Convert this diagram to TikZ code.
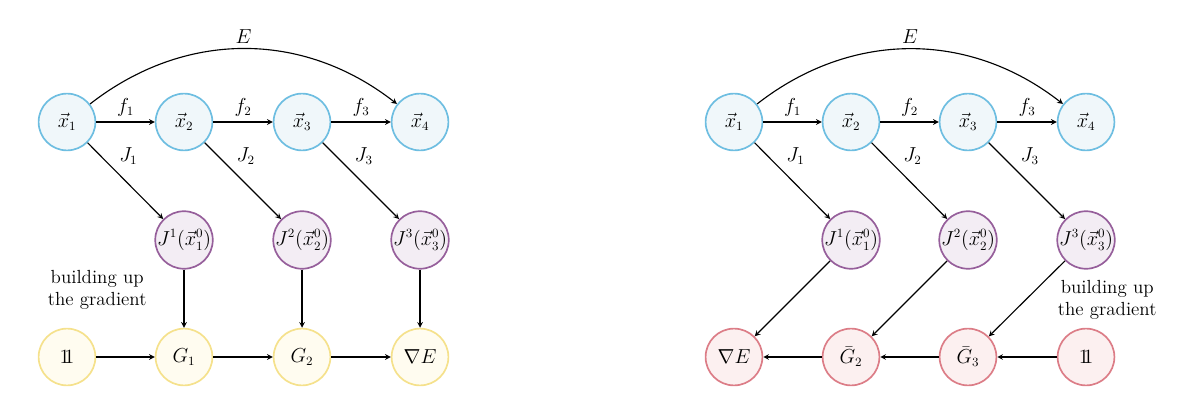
\documentclass[tikz,border=0pt]{standalone}
\newcommand{\onebb}{\mathrm{1\kern-0.28em 1}}
\begin{document}
\begin{tikzpicture}[x=1cm,y=1cm,font=\fontsize{13.5}{16}\selectfont,
  nd/.style={circle,draw,line width=1.2pt,minimum size=1.42cm,inner sep=0pt},
  bl/.style={nd,draw={rgb,255:red,110;green,190;blue,225},fill={rgb,255:red,240;green,247;blue,250}},
  pu/.style={nd,draw={rgb,255:red,150;green,95;blue,155},fill={rgb,255:red,243;green,237;blue,244}},
  ye/.style={nd,draw={rgb,255:red,245;green,225;blue,140},fill={rgb,255:red,255;green,252;blue,240}},
  re/.style={nd,draw={rgb,255:red,220;green,125;blue,135},fill={rgb,255:red,252;green,240;blue,240}},
  ar/.style={->,line width=0.8pt,>=stealth}]
\useasboundingbox (0,0) rectangle (30,10.3);
% left
\node[bl] (a1) at (1.675,7.25) {$\vec{x}_1$};
\node[bl] (a2) at (4.6,7.25) {$\vec{x}_2$};
\node[bl] (a3) at (7.55,7.25) {$\vec{x}_3$};
\node[bl] (a4) at (10.5,7.25) {$\vec{x}_4$};
\node[pu] (p1) at (4.6,4.3) {$J^1(\vec{x}^0_1)$};
\node[pu] (p2) at (7.55,4.3) {$J^2(\vec{x}^0_2)$};
\node[pu] (p3) at (10.5,4.3) {$J^3(\vec{x}^0_3)$};
\node[ye] (g0) at (1.675,1.375) {$\onebb$};
\node[ye] (g1) at (4.6,1.375) {$G_1$};
\node[ye] (g2) at (7.55,1.375) {$G_2$};
\node[ye] (g3) at (10.5,1.375) {$\nabla E$};
\draw[ar] (a1) -- node[above]{$f_1$} (a2);
\draw[ar] (a2) -- node[above]{$f_2$} (a3);
\draw[ar] (a3) -- node[above]{$f_3$} (a4);
\draw[ar] (a1) to[bend left=38] node[above]{$E$} (a4);
\draw[ar] (a1) -- node[pos=0.35,above right]{$J_1$} (p1);
\draw[ar] (a2) -- node[pos=0.35,above right]{$J_2$} (p2);
\draw[ar] (a3) -- node[pos=0.35,above right]{$J_3$} (p3);
\draw[ar] (p1) -- (g1);
\draw[ar] (p2) -- (g2);
\draw[ar] (p3) -- (g3);
\draw[ar] (g0) -- (g1);
\draw[ar] (g1) -- (g2);
\draw[ar] (g2) -- (g3);
\node[align=center] (t1) at (2.43,3.05) {building up\\the gradient};
% right
\node[bl] (b1) at (18.35,7.25) {$\vec{x}_1$};
\node[bl] (b2) at (21.275,7.25) {$\vec{x}_2$};
\node[bl] (b3) at (24.2,7.25) {$\vec{x}_3$};
\node[bl] (b4) at (27.15,7.25) {$\vec{x}_4$};
\node[pu] (q1) at (21.275,4.3) {$J^1(\vec{x}^0_1)$};
\node[pu] (q2) at (24.2,4.3) {$J^2(\vec{x}^0_2)$};
\node[pu] (q3) at (27.15,4.3) {$J^3(\vec{x}^0_3)$};
\node[re] (r0) at (18.35,1.375) {$\nabla E$};
\node[re] (r2) at (21.275,1.375) {$\bar{G}_2$};
\node[re] (r3) at (24.2,1.375) {$\bar{G}_3$};
\node[re] (r4) at (27.15,1.375) {$\onebb$};
\draw[ar] (b1) -- node[above]{$f_1$} (b2);
\draw[ar] (b2) -- node[above]{$f_2$} (b3);
\draw[ar] (b3) -- node[above]{$f_3$} (b4);
\draw[ar] (b1) to[bend left=38] node[above]{$E$} (b4);
\draw[ar] (b1) -- node[pos=0.35,above right]{$J_1$} (q1);
\draw[ar] (b2) -- node[pos=0.35,above right]{$J_2$} (q2);
\draw[ar] (b3) -- node[pos=0.35,above right]{$J_3$} (q3);
\draw[ar] (q1) -- (r0);
\draw[ar] (q2) -- (r2);
\draw[ar] (q3) -- (r3);
\draw[ar] (r4) -- (r3);
\draw[ar] (r3) -- (r2);
\draw[ar] (r2) -- (r0);
\node[align=center] (t2) at (27.68,2.8) {building up\\the gradient};
\end{tikzpicture}
\end{document}
